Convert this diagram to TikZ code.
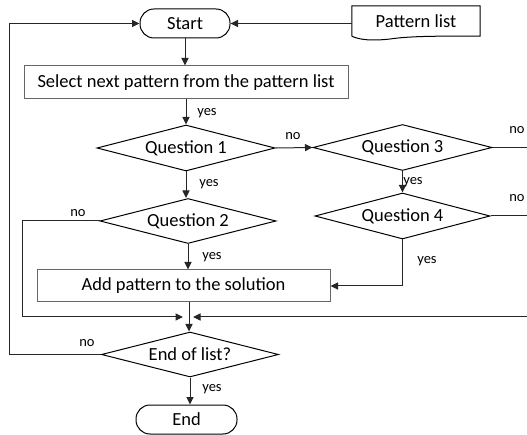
\documentclass[tikz,border=0pt]{standalone}
\usepackage{fontspec}
\setmainfont{Carlito}
\usetikzlibrary{shapes.geometric,arrows.meta}
\begin{document}
\begin{tikzpicture}[x=1pt,y=-1pt,
  every node/.style={font=\fontsize{18.5}{22}\selectfont, inner sep=0pt},
  termbox/.style={draw, rounded corners=14pt, minimum width=#1, minimum height=29pt, line width=1pt},
  procbox/.style={draw=black!60, minimum width=#1, line width=1pt},
  decision/.style={draw, diamond, aspect=3.8, minimum width=178pt, minimum height=46pt, line width=1pt},
  lbl/.style={font=\fontsize{14.5}{17}\selectfont, anchor=center},
  conn/.style={line width=1pt, draw=black!85},
  arr/.style={conn, -{Triangle[length=7.5pt,width=7pt]}}
]
\useasboundingbox (0,0) rectangle (527,435);

% nodes
\node[termbox=90pt] (start) at (185,23.5) {Start};
\node[minimum width=128pt, minimum height=30pt] (plist) at (416,21) {Pattern list};
\draw[line width=1pt] (plist.south west) -- (plist.north west) -- (plist.north east) -- (plist.south east)
   .. controls (440,36) and (410,36) .. (390,39)
   .. controls (372,41) and (360,40) .. (plist.south west);
\node[procbox=324pt, minimum height=33pt] (sel) at (186,82.5) {Select next pattern from the pattern list};
\node[decision] (q1) at (186,148) {Question 1};
\node[decision, minimum width=179pt] (q3) at (402.5,147.5) {Question 3};
\node[decision, minimum width=176pt, minimum height=45pt] (q2) at (188,221) {Question 2};
\node[decision, minimum width=175pt] (q4) at (402.5,216) {Question 4};
\node[procbox=293pt, minimum height=32pt] (add) at (183.5,286) {Add pattern to the solution};
\node[decision, minimum width=177pt, minimum height=45pt] (eol) at (190,354.5) {End of list?};
\node[termbox=101pt] (endn) at (186.5,419.5) {End};

% helper coordinates
\coordinate (m) at (189,317);
\coordinate (lx) at (9,0);
\coordinate (q2x) at (22,0);
\coordinate (rx) at (527,0);

% connectors
\draw[arr] (plist.west |- start.east) -- (start.east);
\draw[arr] (start.south) -- (start.south |- sel.north);
\draw[arr] (sel.south -| q1.north) -- (q1.north);
\draw[arr] (q1.east) -- (q3.west);
\draw[arr] (q1.south) -- (q1.south |- q2.north);
\draw[arr] (q3.south) -- (q3.south |- q4.north);
\draw[conn] (q3.east) -- (rx |- q3.east);
\draw[conn] (q4.east) -- (rx |- q4.east);
\draw[arr] (q2.south) -- (q2.south |- add.north);
\draw[arr] (q4.south) -- (q4.south |- add.east) -- (add.east);
\draw[conn] (add.south -| m) -- (m);
\draw[arr] (q2.west) -- (q2x |- q2.west) -- (q2x |- m) -- ([xshift=-6pt]m);
\draw[arr] (rx |- m) -- ([xshift=4pt]m);
\draw[arr] (m) -- (m |- eol.north);
\draw[arr] (eol.south) -- (eol.south |- endn.north);
\draw[arr] (eol.west) -- (lx |- eol.west) -- (lx |- start.west) -- (start.west);

% labels
\node[lbl] at (207,113) {yes};
\node[lbl] at (209,184) {yes};
\node[lbl] at (212,257) {yes};
\node[lbl] at (413,182) {yes};
\node[lbl] at (427,261) {yes};
\node[lbl] at (212,389) {yes};
\node[lbl] at (293,136) {no};
\node[lbl] at (517,130) {no};
\node[lbl] at (517,198) {no};
\node[lbl] at (78,213) {no};
\node[lbl] at (87,343) {no};
\end{tikzpicture}
\end{document}
